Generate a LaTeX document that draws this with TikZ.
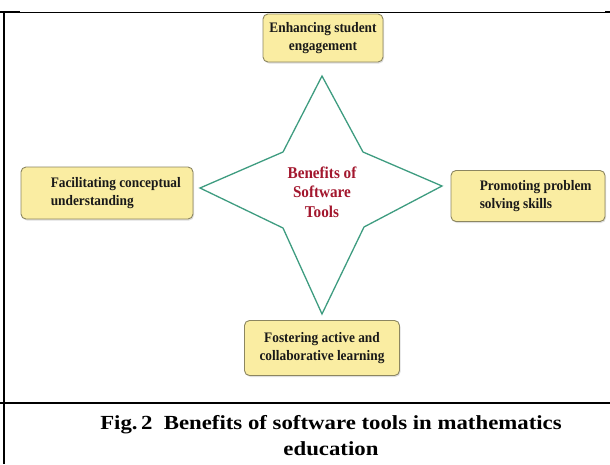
\documentclass[tikz,border=0pt]{standalone}
\usepackage{fontspec}
\setmainfont{Liberation Serif}
\newfontfamily\narrowfont{Liberation Serif}[FakeStretch=0.92]
\newfontfamily\widefont{Liberation Serif}[FakeStretch=1.14]
\usepackage{xcolor}
\usetikzlibrary{shadows}

\definecolor{boxfill}{HTML}{FAEDA2}
\definecolor{boxline}{HTML}{8C8660}
\definecolor{starline}{HTML}{3E9C80}
\definecolor{titlered}{HTML}{A3172E}

\begin{document}
\begin{tikzpicture}[
    x=1pt, y=-1pt,
    benefit/.style={rectangle, rounded corners=5pt, draw=boxline, line width=0.9pt, fill=boxfill,
        drop shadow={opacity=0.25, shadow xshift=1pt, shadow yshift=-1.5pt}, inner sep=0pt},
    benefittext/.style={font=\narrowfont\bfseries\fontsize{14.5}{17.5}\selectfont, text=black!90, inner sep=0pt},
    rule/.style={line width=1.8pt}
]
\useasboundingbox (0,0) rectangle (610,464);

% frame of the table cell
\draw[line width=0.9pt] (0,12) -- (610,12);
\draw[rule] (0,12) -- (20,12);
\draw[rule] (605,12) -- (610,12);
\draw[rule] (4,12) -- (4,464);
\draw[rule] (0,403) -- (610,403);

% four pointed star
\coordinate (top) at (322,76);
\coordinate (left) at (200,188);
\coordinate (right) at (442,186);
\coordinate (bottom) at (322,314);
\coordinate (ul) at (283,152);
\coordinate (ur) at (363,152);
\coordinate (lr) at (364,227);
\coordinate (ll) at (283,228);
\draw[starline, line width=1.3pt, fill=white, line join=miter]
    (top) -- (ul) -- (left) -- (ll) -- (bottom) -- (lr) -- (right) -- (ur) -- cycle;
\node[font=\narrowfont\bfseries\fontsize{16.5}{19.5}\selectfont, text=titlered, align=center] (benefits) at (322,192)
    {Benefits of\\Software\\Tools};

% the four benefits
\node[benefit, benefittext, minimum width=120, minimum height=48, align=center] (engage) at (323,38)
    {Enhancing student\\engagement};
\node[benefit, minimum width=172, minimum height=52] (concept) at (107,193) {};
\node[benefittext, anchor=west, align=left] (concepttxt) at ([xshift=30pt]concept.west)
    {Facilitating conceptual\\understanding};
\node[benefit, minimum width=154, minimum height=51] (solve) at (528,196) {};
\node[benefittext, anchor=west, align=left] (solvetxt) at ([xshift=29pt]solve.west)
    {Promoting problem\\solving skills};
\node[benefit, benefittext, minimum width=155, minimum height=55, align=center] (foster) at (322,348)
    {Fostering active and\\collaborative learning};

% caption
\node[font=\widefont\bfseries\fontsize{20}{26}\selectfont, align=center] (caption) at (331,436)
    {Fig.\,2\ \ Benefits of software tools in mathematics\\education};
\end{tikzpicture}
\end{document}
